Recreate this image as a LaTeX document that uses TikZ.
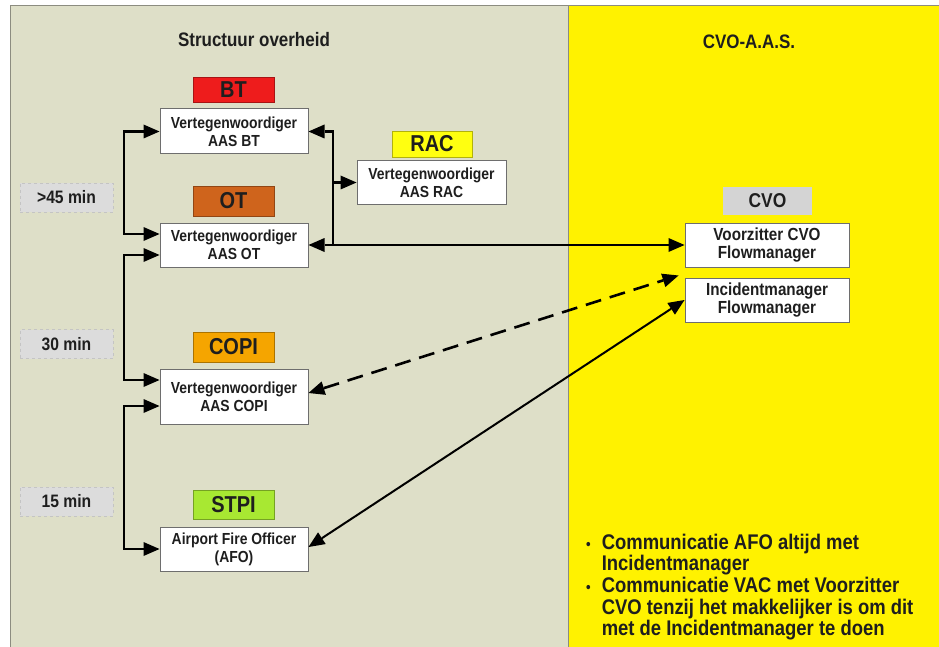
\documentclass[tikz,border=0pt]{standalone}
\usepackage{fontspec}
\setmainfont[FakeStretch=0.87]{Liberation Sans}
\usetikzlibrary{arrows.meta}
\definecolor{panelgray}{HTML}{DEDFC8}
\definecolor{panelborder}{HTML}{8C8C80}
\definecolor{textdark}{HTML}{1E1E1E}
\definecolor{btred}{HTML}{EE1C1C}
\definecolor{otorange}{HTML}{CF641C}
\definecolor{copiorange}{HTML}{F5A500}
\definecolor{stpigreen}{HTML}{A8E832}
\definecolor{racyellow}{HTML}{FFFF10}
\definecolor{cvogray}{HTML}{D4D4D4}
\definecolor{timegray}{HTML}{DCDCDC}
\definecolor{timeborder}{HTML}{C4C4C4}
\definecolor{boxborder}{HTML}{6E6E6E}
\begin{document}
\begin{tikzpicture}[x=1pt,y=-1pt,
  every node/.style={text=textdark, font=\bfseries},
  box/.style={draw=boxborder, line width=1pt, fill=white, minimum width=148pt, align=center, inner sep=0pt, font=\fontsize{16}{18}\selectfont\bfseries},
  rbox/.style={box, minimum width=164pt, minimum height=44pt, font=\fontsize{17.5}{18.5}\selectfont\bfseries},
  tag/.style={draw=#1!70!black, line width=0.8pt, fill=#1, minimum width=81pt, inner sep=0pt, font=\fontsize{23}{23}\selectfont\bfseries},
  timebox/.style={draw=timeborder, dashed, line width=0.8pt, fill=timegray, minimum width=93pt, minimum height=29pt, inner sep=0pt, font=\fontsize{18}{18}\selectfont\bfseries},
  heading/.style={font=\fontsize{19.5}{20}\selectfont\bfseries},
  >={Triangle[length=16pt,width=14pt,line width=0pt]},
  conn/.style={line width=2.6pt, black, <->},
  oneway/.style={line width=2.6pt, black, ->}
]
\useasboundingbox (0,0) rectangle (939,647);
\fill[white] (0,0) rectangle (939,647);
\filldraw[fill=panelgray, draw=panelborder, line width=1pt] (10,6) rectangle (568,660);
\filldraw[fill=yellow, draw=panelborder, line width=1pt] (568,6) rectangle (950,660);

% headings
\node[heading] (hleft) at (254,40) {Structuur overheid};
\node[heading] (hright) at (749,42) {CVO-A.A.S.};

% time labels
\node[timebox] (t45) at (66.5,197.5) {>45 min};
\node[timebox] (t30) at (66.5,344) {30 min};
\node[timebox] (t15) at (66.5,501.5) {15 min};

% colour tags
\node[tag=btred, minimum height=25pt] (tbt) at (233.5,89.5) {BT};
\node[tag=otorange, minimum height=30pt] (tot) at (233.5,201) {OT};
\node[tag=copiorange, minimum height=30pt] (tcopi) at (233.5,347) {COPI};
\node[tag=stpigreen, minimum height=29pt] (tstpi) at (233.5,504.5) {STPI};
\node[tag=racyellow, minimum height=26pt, minimum width=80pt] (trac) at (432,144) {RAC};
\node[fill=cvogray, minimum width=89pt, minimum height=28pt, inner sep=0pt, font=\fontsize{20}{20}\selectfont\bfseries] (tcvo) at (767.5,201) {CVO};

% boxes
\node[box, minimum height=45pt] (bt) at (234,131.5) {Vertegenwoordiger\\AAS BT};
\node[box, minimum height=44pt] (ot) at (234,245) {Vertegenwoordiger\\AAS OT};
\node[box, minimum height=55pt] (copi) at (234,396.5) {Vertegenwoordiger\\AAS COPI};
\node[box, minimum height=44pt] (afo) at (234,549) {Airport Fire Officer\\(AFO)};
\node[box, minimum width=149pt, minimum height=43pt] (rac) at (431.5,182.5) {Vertegenwoordiger\\AAS RAC};
\node[rbox] (vz) at (767,245) {Voorzitter CVO\\Flowmanager};
\node[rbox] (inc) at (767,300) {Incidentmanager\\Flowmanager};

% bullets
\node[anchor=west, inner sep=0pt, font=\fontsize{21.2}{21}\selectfont\bfseries] (notes) at (586,588) {%
  \begin{tabular}{@{}l@{\hspace{11pt}}l@{}}
  {\fontsize{15}{15}\selectfont\textbullet} & Communicatie AFO altijd met\\
   & Incidentmanager\\
  {\fontsize{15}{15}\selectfont\textbullet} & Communicatie VAC met Voorzitter\\
   & CVO tenzij het makkelijker is om dit\\
   & met de Incidentmanager te doen
  \end{tabular}};

% brackets on the left
\coordinate (lb1) at (124,182);
\coordinate (lb2) at (124,320);
\coordinate (lb3) at (124,480);
\draw[conn] (bt.west) -| (lb1) |- ([yshift=11pt]ot.west);
\draw[conn] ([yshift=-10pt]ot.west) -| (lb2) |- ([yshift=16.5pt]copi.west);
\draw[conn] ([yshift=-9.5pt]copi.west) -| (lb3) |- (afo.west);

% bracket on the right
\coordinate (rb) at (333,245);
\coordinate (rbmid) at (333,182.5);
\draw[oneway] (rb) |- (bt.east);
\draw[oneway] (rbmid) -- (rac.west);
\draw[conn] (ot.east) -- (vz.west);

% links to the incident manager
\coordinate (incnw) at ([xshift=-6pt,yshift=2pt]inc.north west);
\draw[conn, dash pattern=on 16pt off 9pt] ([yshift=3.5pt]copi.east) -- (incnw);
\draw[conn, line width=2pt] ([yshift=2pt]afo.east) -- (inc.west);
\end{tikzpicture}
\end{document}
